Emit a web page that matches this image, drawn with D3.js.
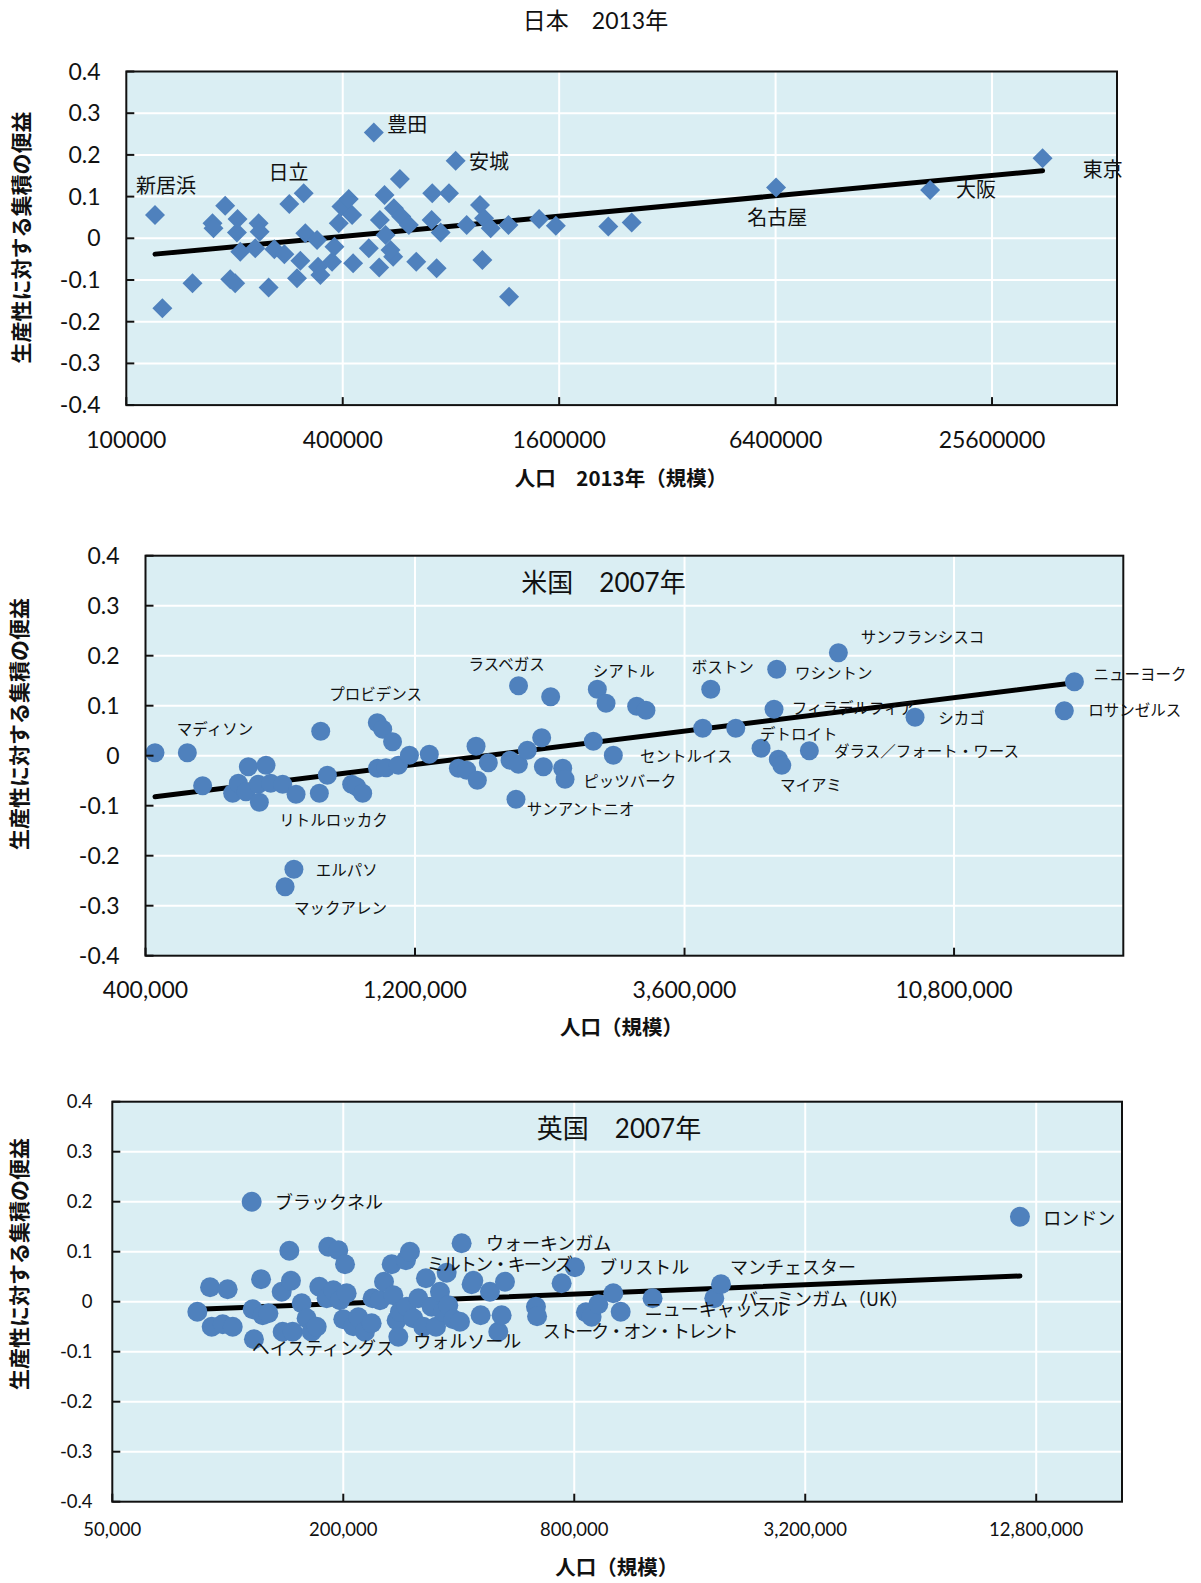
<!DOCTYPE html>
<html><head><meta charset="utf-8">
<script src="https://cdn.jsdelivr.net/npm/d3@7"></script>
<style>body{margin:0;background:#fff}</style>
</head><body>
<script>
// ===== Japan 2013: population and agglomeration benefit =====
const JP_POP = [120200,126000,152800,173700,174800,188400,203900,203100,194600,200900,
  207500,228400,233400,234900,248800,258100,275200,284100,311500,304900,
  314800,298400,339300,341500,346700,373600,379300,389900,396700,415800,
  424800,427500,488200,472800,505200,507400,522800,526200,555000,552600,
  543200,576800,581800,611100,640600,709800,706800,748800,729800,790000,
  824500,884900,963800,988900,1032000,978300,1156000,1161000,1407000,1566000,
  2192000,2546000,6420000,17220000,35390000];
const JP_VAL = [0.056,-0.168,-0.108,0.036,0.024,0.078,0.046,0.014,-0.098,-0.108,
  -0.032,-0.024,0.036,0.016,-0.118,-0.026,-0.038,0.082,0.108,-0.054,
  0.012,-0.096,-0.004,-0.068,-0.088,-0.056,-0.020,0.036,0.076,0.094,
  0.056,-0.060,0.254,-0.024,-0.070,0.044,0.104,0.008,0.072,-0.044,
  -0.028,0.142,0.052,0.032,-0.056,0.108,0.044,0.014,-0.072,0.108,
  0.186,0.032,0.080,0.048,0.024,-0.052,0.032,-0.140,0.046,0.030,
  0.028,0.038,0.122,0.116,0.192];
const JP_LABELS = ["新居浜","日立","豊田","安城","名古屋","大阪","東京"];
const JP_LABEL_IDX = [0,17,32,50,62,63,64];
const JP_TREND = [-0.4497, 0.0352];           // intercept, slope on ln(population)
const JP_XTICKS = [100000,400000,1600000,6400000,25600000];

// ===== United States 2007 =====
const US_POP = [415800,474400,504900,570700,584000,602500,608300,633600,636200,653700,
  666300,699700,706700,732500,738800,812500,817000,839400,926900,946100,
  969500,1029000,1052000,1030000,1066000,1095000,1121000,1173000,1272000,1432000,
  1481000,1539000,1547000,1618000,1768000,1829000,1830000,1811000,1897000,2011000,
  2025000,2086000,2191000,2212000,2482000,2523000,2614000,2693000,2962000,3076000,
  3877000,4436000,4006000,5242000,5185000,4917000,5277000,5351000,5988000,6740000,
  9213000,17640000,16930000];
const US_VAL = [0.006,0.006,-0.060,-0.075,-0.055,-0.072,-0.022,-0.057,-0.093,-0.019,
  -0.055,-0.057,-0.262,-0.227,-0.077,-0.075,0.049,-0.039,-0.057,-0.062,
  -0.075,0.066,0.053,-0.025,-0.024,0.028,-0.019,0.001,0.003,-0.025,
  -0.029,0.019,-0.049,-0.014,-0.009,-0.017,0.140,-0.087,0.011,0.036,
  -0.022,0.118,-0.025,-0.047,0.029,0.133,0.105,0.001,0.099,0.091,
  0.055,0.055,0.133,0.173,0.093,0.015,-0.007,-0.019,0.010,0.206,
  0.077,0.148,0.090];
const US_LABELS = ["マディソン","リトルロッカク","マックアレン","エルパソ","プロビデンス","ラスベガス",
  "サンアントニオ","ピッツバーク","シアトル","セントルイス","ボストン","ワシントン",
  "フィラデルフィア","デトロイト","マイアミ","ダラス／フォート・ワース","サンフランシスコ",
  "シカゴ","ニューヨーク","ロサンゼルス"];
const US_LABEL_IDX = [1,14,12,13,21,36,37,43,45,47,52,53,54,55,57,58,59,60,61,62];
const US_TREND = [-0.8686, 0.0608];
const US_XTICKS = [400000,1200000,3600000,10800000];

// ===== United Kingdom 2007 =====
const UK_POP = [83300,89900,90800,97000,99900,103000,115400,117000,116100,122100,
  123300,127600,138200,139000,144700,146100,147600,155800,160500,165400,
  170500,173200,181000,182800,188400,194100,196100,200000,202100,204100,
  212400,218900,227800,237100,238500,249300,255400,267400,270100,275500,
  278300,281000,291300,298400,292500,304500,313800,323300,328500,339900,
  348900,357300,364500,371900,375600,387100,402900,406900,432100,436500,
  456100,482300,507100,517400,527800,635700,640000,741600,803300,858100,
  887800,924100,1011000,1057000,1280000,1854000,1930000,11610000];
const UK_VAL = [-0.020,0.029,-0.050,-0.045,0.025,-0.050,0.200,-0.075,-0.015,0.045,
  -0.027,-0.023,0.020,-0.060,0.102,0.042,-0.060,-0.003,-0.033,-0.060,
  -0.050,0.030,0.007,0.110,0.023,0.103,0.003,-0.035,0.075,0.017,
  -0.049,-0.031,-0.060,-0.043,0.007,0.003,0.040,0.075,0.013,-0.037,
  -0.070,-0.020,0.083,0.100,-0.010,-0.033,0.007,-0.050,0.047,-0.010,
  -0.050,0.020,-0.020,0.058,-0.007,-0.035,-0.040,0.117,0.035,0.042,
  -0.027,0.020,-0.060,-0.027,0.040,-0.010,-0.029,0.037,0.069,-0.021,
  -0.030,-0.005,0.017,-0.020,0.007,0.007,0.035,0.170];
const UK_LABELS = ["ブラックネル","ヘイスティングス","ウォルソール","ウォーキンガム","ストーク・オン・トレント",
  "ミルトン・キーンズ","ブリストル","ニューキャッスル","バーミンガム（UK）","マンチェスター","ロンドン"];
const UK_LABEL_IDX = [6,7,40,57,66,68,72,74,75,76,77];
const UK_TREND = [-0.1684, 0.01351];
const UK_XTICKS = [50000,200000,800000,3200000,12800000];

const Y_TICKS = [0.4,0.3,0.2,0.1,0,-0.1,-0.2,-0.3,-0.4];

// ===== label placement (pixel offsets from each labelled mark) =====
const JP_LABEL_OFF = [[-19,-29],[-20.7,-31.3],[13.4,-7.7],[13.3,1],[-28.8,30.9],[26,0],[40.2,11.8]];
const US_LABEL_OFF = [[-10.6,-22.7],[-16.7,26],[8.9,21.6],[21.8,1.4],[-48,-27.7],[-50,-20.7],
  [10.7,10.7],[18.3,2.4],[-4.6,-17.6],[26.7,1.7],[-19,-21.6],[18.3,4],
  [17.7,-1],[-1,-13.3],[-1.7,20],[24.7,1],[22.4,-15.4],[23.3,1],[19,-6.7],[24,0]];
const UK_LABEL_OFF = [[23.3,1],[-2.3,9],[15,5],[24.3,0.7],[5.7,15.7],[-148.3,-2.3],
  [-14,-26],[-7.7,11.7],[25.7,1],[9,-16.7],[23.3,1.6]];

// ===== drawing =====
const W = 1201, H = 1583;
const LAT = "Lato, 'Noto Sans CJK JP', sans-serif";
const CJK = "'Noto Sans CJK JP', sans-serif";
const BLUE = "#4F81BD", BG = "#DAEEF3";

const svg = d3.select("body").append("svg")
  .attr("width", W).attr("height", H).style("display", "block");
svg.append("rect").attr("width", W).attr("height", H).attr("fill", "#fff");

const fmtY = v => Math.abs(v) < 1e-9 ? "0" : v.toFixed(1);

function panel(o) {
  const g = svg.append("g");
  const x = d3.scaleLog().domain(o.xDomain).range([o.left, o.right]);
  const y = d3.scaleLinear().domain([-0.4, 0.4]).range([o.bottom, o.top]);

  g.append("rect").attr("x", o.left).attr("y", o.top)
    .attr("width", o.right - o.left).attr("height", o.bottom - o.top).attr("fill", BG);

  // white gridlines
  g.append("g").selectAll("line").data(Y_TICKS.filter(v => Math.abs(v) < 0.35)).join("line")
    .attr("x1", o.left).attr("x2", o.right)
    .attr("y1", d => y(d)).attr("y2", d => y(d))
    .attr("stroke", "#fff").attr("stroke-width", 2);
  g.append("g").selectAll("line").data(o.xTicks.slice(1)).join("line")
    .attr("x1", d => x(d)).attr("x2", d => x(d))
    .attr("y1", o.top).attr("y2", o.bottom)
    .attr("stroke", "#fff").attr("stroke-width", 2);

  // regression line
  const f = v => o.trend[0] + o.trend[1] * Math.log(v);
  g.append("path")
    .attr("d", d3.line().x(d => x(d)).y(d => y(f(d)))(d3.extent(o.pop)))
    .attr("fill", "none").attr("stroke", "#000").attr("stroke-width", 5)
    .attr("stroke-linecap", "round");

  // markers
  const pts = o.pop.map((p, i) => ({p, v: o.val[i]}));
  if (o.diamond) {
    const r = 10;
    g.append("g").selectAll("path").data(pts).join("path")
      .attr("d", `M0,${-r}L${r},0L0,${r}L${-r},0Z`)
      .attr("transform", d => `translate(${x(d.p)},${y(d.v)})`)
      .attr("fill", BLUE);
  } else {
    g.append("g").selectAll("circle").data(pts).join("circle")
      .attr("cx", d => x(d.p)).attr("cy", d => y(d.v)).attr("r", o.r)
      .attr("fill", BLUE);
  }

  // frame and inward ticks
  g.append("rect").attr("x", o.left).attr("y", o.top)
    .attr("width", o.right - o.left).attr("height", o.bottom - o.top)
    .attr("fill", "none").attr("stroke", "#111").attr("stroke-width", 2);
  g.append("g").selectAll("line").data(Y_TICKS).join("line")
    .attr("x1", o.left).attr("x2", o.left + 8)
    .attr("y1", d => y(d)).attr("y2", d => y(d))
    .attr("stroke", "#111").attr("stroke-width", 2);
  g.append("g").selectAll("line").data(o.xTicks).join("line")
    .attr("x1", d => x(d)).attr("x2", d => x(d))
    .attr("y1", o.bottom).attr("y2", o.bottom - 8)
    .attr("stroke", "#111").attr("stroke-width", 2);

  // tick labels
  g.append("g").selectAll("text").data(Y_TICKS).join("text")
    .attr("x", o.yLabelX).attr("y", d => y(d)).attr("dy", "0.35em")
    .attr("text-anchor", "end").attr("font-family", LAT).attr("font-size", o.tickSize)
    .attr("fill", "#111").text(fmtY);
  g.append("g").selectAll("text").data(o.xTicks).join("text")
    .attr("x", d => x(d)).attr("y", o.xLabelY).attr("dy", "0.35em")
    .attr("text-anchor", "middle").attr("font-family", LAT).attr("font-size", o.tickSize)
    .attr("fill", "#111").text(o.xFmt);

  // city labels (names joined with a middle dot are set a little tighter)
  g.append("g").selectAll("text").data(o.labels).join("text")
    .attr("x", (d, k) => x(o.pop[o.labelIdx[k]]) + o.labelOff[k][0])
    .attr("y", (d, k) => y(o.val[o.labelIdx[k]]) + o.labelOff[k][1])
    .attr("dy", "0.35em").attr("font-family", CJK).attr("font-size", o.labelSize)
    .attr("letter-spacing", d => (o.tightDot && d.includes("・")) ? -1.8 : 0)
    .attr("fill", "#111").text(d => d);

  // titles
  g.append("text").attr("x", o.title[1]).attr("y", o.title[2]).attr("dy", "0.35em")
    .attr("text-anchor", "middle").attr("font-family", LAT).attr("font-size", o.title[3])
    .attr("fill", "#111").text(o.title[0]);
  g.append("text").attr("x", o.xTitle[1]).attr("y", o.xTitle[2]).attr("dy", "0.35em")
    .attr("text-anchor", "middle").attr("font-family", CJK).attr("font-weight", 700)
    .attr("font-size", 20.5).attr("fill", "#111").text(o.xTitle[0]);
  g.append("text").attr("transform", `translate(${o.yTitle[0]},${o.yTitle[1]}) rotate(-90)`)
    .attr("dy", "0.35em").attr("text-anchor", "middle").attr("font-family", CJK)
    .attr("font-weight", 700).attr("font-size", 21).attr("fill", "#111")
    .text("生産性に対する集積の便益");
}

panel({
  pop: JP_POP, val: JP_VAL, trend: JP_TREND, diamond: true,
  xDomain: [1e5, 5.7e7], left: 126.3, right: 1117, top: 71.5, bottom: 405.1,
  xTicks: JP_XTICKS, xFmt: d => String(d),
  yLabelX: 100.5, xLabelY: 440, tickSize: 23,
  labels: JP_LABELS, labelIdx: JP_LABEL_IDX, labelOff: JP_LABEL_OFF, labelSize: 20,
  title: ["日本　2013年", 595.5, 21, 23],
  xTitle: ["人口　2013年（規模）", 621, 479],
  yTitle: [22, 237.5]
});

panel({
  pop: US_POP, val: US_VAL, trend: US_TREND, r: 9.5,
  xDomain: [4e5, 2.153e7], left: 145.5, right: 1123.3, top: 555.7, bottom: 955.7,
  xTicks: US_XTICKS, xFmt: d3.format(","),
  yLabelX: 119.5, xLabelY: 990, tickSize: 23,
  labels: US_LABELS, labelIdx: US_LABEL_IDX, labelOff: US_LABEL_OFF, labelSize: 15.5,
  title: ["米国　2007年", 603.5, 583, 26],
  xTitle: ["人口（規模）", 621.5, 1028],
  yTitle: [20, 724]
});

panel({
  pop: UK_POP, val: UK_VAL, trend: UK_TREND, r: 10, tightDot: true,
  xDomain: [5e4, 2.142e7], left: 112.3, right: 1122, top: 1101.7, bottom: 1501.7,
  xTicks: UK_XTICKS, xFmt: d3.format(","),
  yLabelX: 92.6, xLabelY: 1530, tickSize: 18.5,
  labels: UK_LABELS, labelIdx: UK_LABEL_IDX, labelOff: UK_LABEL_OFF, labelSize: 18,
  title: ["英国　2007年", 619, 1129, 26],
  xTitle: ["人口（規模）", 616.7, 1567.5],
  yTitle: [20, 1264]
});
</script>
</body></html>
